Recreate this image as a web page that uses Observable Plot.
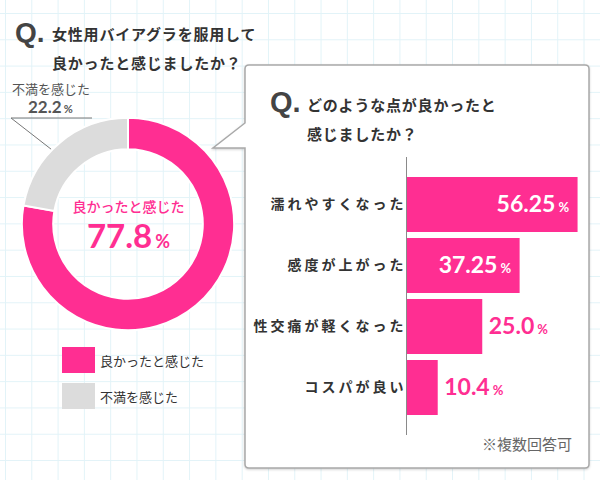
<!DOCTYPE html>
<html><head><meta charset="utf-8">
<script src="https://cdn.jsdelivr.net/npm/d3@7"></script>
<script src="https://cdn.jsdelivr.net/npm/@observablehq/plot@0.6"></script>
<style>
body{margin:0;background:#fff;}
#root{position:relative;width:600px;height:480px;overflow:hidden;background-color:#fff;
background-image:linear-gradient(to right,#e2f3f8 1px,transparent 1px),linear-gradient(to bottom,#e2f3f8 1px,transparent 1px);
background-size:26.3px 26.3px;background-position:5px 13px;}
.abs{position:absolute;white-space:nowrap;}
.jp{font-family:"Noto Sans CJK JP","Noto Sans",sans-serif;}
.q{font-family:"Liberation Sans",Arial,sans-serif;font-weight:bold;color:#444;}
.num{font-family:Lato,"Open Sans",sans-serif;font-weight:700;}
</style></head><body><div id="root">
<svg id="deco" class="abs" style="left:0;top:0" width="600" height="480"></svg>
<div id="title" class="abs"></div>
<div id="donut" class="abs" style="left:18px;top:114px"></div>
<div id="glabel" class="abs"></div>
<div id="legend" class="abs"></div>
<div id="q2" class="abs"></div>
<div id="bars" class="abs" style="left:245px;top:150px"></div>
<div id="note" class="abs"></div>
</div>
<script>
// ---- data ----
const title1 = ["女性用バイアグラを服用して", "良かったと感じましたか？"];
const title2 = ["どのような点が良かったと", "感じましたか？"];
const donutCategories = ["良かったと感じた", "不満を感じた"];
const donutValues = [77.8, 22.2];
const donutLabels = ["77.8", "22.2"];
const donutColors = ["#ff2e92", "#dcdcdc"];
const barCategories = ["濡れやすくなった", "感度が上がった", "性交痛が軽くなった", "コスパが良い"];
const barValues = [56.25, 37.25, 25.0, 10.4];
const barLabels = ["56.25", "37.25", "25.0", "10.4"];
const noteText = "※複数回答可";
const pink = "#ff2e92";

// ---- decorations (callout box, leader line) ----
const deco = d3.select("#deco");
deco.append("path")
  .attr("d", "M249,65 H585 Q589,65 589,69 V464 Q589,468 585,468 H249 Q245,468 245,464 V148 H213 L245,123 V69 Q245,65 249,65 Z")
  .attr("fill", "#fff").attr("stroke", "#a9a9a9").attr("stroke-width", 1.5)
  .style("filter", "drop-shadow(0px 1px 1px rgba(0,0,0,0.18))");
deco.append("polyline").attr("points", "92,118 11,118 65,160")
  .attr("fill", "none").attr("stroke", "#777").attr("stroke-width", 1);

// ---- titles ----
function qTitle(el, left, top, lines, qSize, qTop) {
  const d = d3.select(el).style("left", left + "px").style("top", top + "px");
  d.append("div").attr("class", "abs q").style("left", "0px").style("top", qTop + "px")
    .style("font-size", qSize + "px").style("line-height", qSize + "px").text("Q.");
  const t = d.append("div").attr("class", "abs jp").style("left", "37px").style("top", "2px")
    .style("font-size", "15px").style("font-weight", "bold").style("color", "#333")
    .style("line-height", "29px").style("letter-spacing", "0.8px");
  lines.forEach(l => t.append("div").text(l));
}
qTitle("#title", 15, 17, title1, 28, 2);
qTitle("#q2", 270, 88, title2, 29, 0);

// ---- donut ----
function donutMark(index, scales) {
  const cx = scales.x(0), cy = scales.y(0), R = scales.x(1) - cx;
  const arcs = d3.pie().sort(null).value(d => d)(donutValues);
  const arc = d3.arc().innerRadius(R * 0.68).outerRadius(R * 0.965);
  const g = d3.create("svg:g").attr("transform", `translate(${cx},${cy})`);
  g.selectAll("path").data(arcs).join("path")
    .attr("d", arc).attr("fill", (d, i) => donutColors[i])
    .attr("stroke", "#fff").attr("stroke-width", 2);
  return g.node();
}
const donut = Plot.plot({
  width: 220, height: 220, margin: 0,
  x: {domain: [-1, 1], axis: null},
  y: {domain: [-1, 1], axis: null},
  style: {background: "transparent", overflow: "visible"},
  marks: [
    donutMark,
    Plot.text([donutCategories[0]], {frameAnchor: "middle", dy: -17, fill: pink, fontSize: 14,
      fontFamily: '"Noto Sans CJK JP"', fontWeight: 500}),
    Plot.text([donutLabels[0]], {frameAnchor: "middle", dy: 13, fill: pink, fontSize: 33,
      fontFamily: 'Lato', fontWeight: 700})
  ]
});
document.getElementById("donut").append(donut);
d3.select(donut).selectAll("text").each(function() {
  const t = this.textContent;
  if (/^[\d.]+$/.test(t)) {
    d3.select(this).text(null);
    d3.select(this).append("tspan").text(t);
    d3.select(this).append("tspan").attr("font-size", 18).attr("dx", 3).text("%");
  }
});

// gray label
const gl = d3.select("#glabel").style("left", "12px").style("top", "80px");
gl.append("div").attr("class", "jp").style("font-size", "13px").style("color", "#555")
  .style("line-height", "18px").text(donutCategories[1]);
const gv = gl.append("div").attr("class", "num").style("color", "#555").style("margin-left", "16px")
  .style("line-height", "18px");
gv.append("span").style("font-size", "17px").text(donutLabels[1]);
gv.append("span").style("font-size", "11px").style("margin-left", "2px").text("%");

// legend
const lg = d3.select("#legend").style("left", "62px").style("top", "347px");
donutCategories.forEach((c, i) => {
  const row = lg.append("div").style("display", "flex").style("align-items", "center").style("height", "26px")
    .style("margin-bottom", "10px");
  row.append("div").style("width", "33px").style("height", "26px").style("background", donutColors[i]);
  row.append("div").attr("class", "jp").style("margin-left", "5px").style("font-size", "13px")
    .style("color", "#333").text(c);
});

// ---- bars ----
const barData = barCategories.map((c, i) => ({cat: c, value: barValues[i], label: barLabels[i], inside: barValues[i] > 30}));
const bars = Plot.plot({
  width: 345, height: 300, marginLeft: 161, marginRight: 1, marginTop: 7, marginBottom: 15,
  x: {domain: [0, 60], axis: null},
  y: {domain: barCategories, paddingInner: 0.1, paddingOuter: 0.32, label: null, tickSize: 0, tickPadding: 0},
  style: {fontFamily: '"Noto Sans CJK JP"', fontSize: "14px", fontWeight: "bold", color: "#333",
    background: "transparent", overflow: "visible"},
  marks: [
    Plot.barX(barData, {x: "value", y: "cat", fill: pink}),
    Plot.ruleX([0], {stroke: "#8a8a8a", strokeWidth: 1}),
    Plot.text(barData.filter(d => d.inside), {x: "value", y: "cat", text: "label", textAnchor: "end", dx: -9,
      fill: "#fff", fontSize: 23, fontFamily: "Lato", fontWeight: 700}),
    Plot.text(barData.filter(d => !d.inside), {x: "value", y: "cat", text: "label", textAnchor: "start", dx: 6,
      fill: pink, fontSize: 23, fontFamily: "Lato", fontWeight: 700})
  ]
});
document.getElementById("bars").append(bars);
d3.select(bars).selectAll('[aria-label^="y-axis"] text').style("letter-spacing", "3px");
d3.select(bars).selectAll("text").each(function() {
  const t = this.textContent;
  if (/^[\d.]+$/.test(t)) {
    d3.select(this).text(null);
    d3.select(this).append("tspan").text(t);
    d3.select(this).append("tspan").attr("font-size", 13).attr("dx", 3).text("%");
  }
});

// note
d3.select("#note").attr("class", "abs jp").style("right", "28px").style("top", "434px")
  .style("font-size", "15px").style("color", "#666").style("line-height", "20px").text(noteText);
</script>
</body></html>
